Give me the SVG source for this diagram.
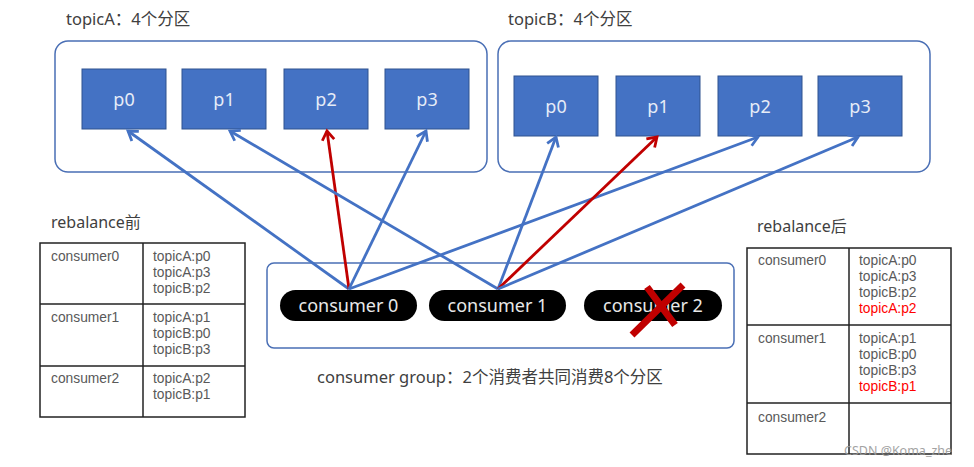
<svg xmlns="http://www.w3.org/2000/svg" width="974" height="467" viewBox="0 0 974 467">
<defs>
<style>
.lbl{font-family:"Noto Sans","Noto Sans CJK SC",sans-serif;font-size:16.5px;fill:#404040}
.topic{fill:#fff;stroke:#4a6fb5;stroke-width:1.5}
.part{fill:#4472C4;stroke:#2F528F;stroke-width:1}
.ptxt{font-family:"Noto Sans","Noto Sans CJK SC",sans-serif;font-size:18px;fill:#e6ecf7;text-anchor:middle}
.pill{fill:#000}
.ctxt{font-family:"Noto Sans","Noto Sans CJK SC",sans-serif;font-size:18px;fill:#e8e8e8;text-anchor:middle}
.tb{fill:none;stroke:#222;stroke-width:1.5}
.tt{font-family:"Liberation Sans",Arial,sans-serif;font-size:13.8px;fill:#595959}
.red{fill:#ff0000}
.blue{stroke:#4472C4;stroke-width:2.8;fill:none}
.redl{stroke:#C00000;stroke-width:2.8;fill:none}
</style>
<marker id="ab" markerUnits="userSpaceOnUse" markerWidth="20" markerHeight="20" viewBox="-12 -10 14 20" refX="0" refY="0" orient="auto">
<path d="M-9,-6 L0,0 L-9,6" fill="none" stroke="#4472C4" stroke-width="2.8"/>
</marker>
<marker id="ar" markerUnits="userSpaceOnUse" markerWidth="20" markerHeight="20" viewBox="-12 -10 14 20" refX="0" refY="0" orient="auto">
<path d="M-9,-6 L0,0 L-9,6" fill="none" stroke="#C00000" stroke-width="2.8"/>
</marker>
</defs>
<rect width="974" height="467" fill="#fff"/>

<g id="topicA">
<text class="lbl" x="66" y="25">topicA：4个分区</text>
<rect class="topic" x="55" y="41" width="432" height="131" rx="13"/>
</g>
<g id="topicB">
<text class="lbl" x="508" y="25">topicB：4个分区</text>
<rect class="topic" x="498" y="41" width="432" height="131" rx="13"/>
</g>

<g id="A-p0"><rect class="part" x="82" y="69" width="84" height="60"/><text class="ptxt" x="124" y="106">p0</text></g>
<g id="A-p1"><rect class="part" x="182" y="69" width="84" height="60"/><text class="ptxt" x="224" y="106">p1</text></g>
<g id="A-p2"><rect class="part" x="284" y="69" width="84" height="60"/><text class="ptxt" x="326" y="106">p2</text></g>
<g id="A-p3"><rect class="part" x="385" y="69" width="84" height="60"/><text class="ptxt" x="427" y="106">p3</text></g>

<g id="B-p0"><rect class="part" x="514" y="76" width="84" height="60"/><text class="ptxt" x="556" y="113">p0</text></g>
<g id="B-p1"><rect class="part" x="616" y="76" width="84" height="60"/><text class="ptxt" x="658" y="113">p1</text></g>
<g id="B-p2"><rect class="part" x="718" y="76" width="84" height="60"/><text class="ptxt" x="760" y="113">p2</text></g>
<g id="B-p3"><rect class="part" x="818" y="76" width="84" height="60"/><text class="ptxt" x="860" y="113">p3</text></g>

<g id="consumer-group">
<rect class="topic" x="267" y="263" width="467" height="85" rx="7"/>
<text class="lbl" x="317" y="383">consumer group：2个消费者共同消费8个分区</text>
</g>

<g id="connectors">
<line class="blue" x1="349" y1="289" x2="128" y2="131" marker-end="url(#ab)"/>
<line class="redl" x1="349" y1="289" x2="327" y2="131" marker-end="url(#ar)"/>
<line class="blue" x1="349" y1="289" x2="426" y2="131" marker-end="url(#ab)"/>
<line class="blue" x1="349" y1="289" x2="758" y2="137" marker-end="url(#ab)"/>
<line class="blue" x1="498" y1="289" x2="230" y2="131" marker-end="url(#ab)"/>
<line class="blue" x1="498" y1="289" x2="556" y2="137" marker-end="url(#ab)"/>
<line class="redl" x1="498" y1="289" x2="657" y2="137" marker-end="url(#ar)"/>
<line class="blue" x1="498" y1="289" x2="858" y2="137" marker-end="url(#ab)"/>
</g>

<g id="consumer0"><rect class="pill" x="280" y="290" width="137" height="31" rx="15.5"/><text class="ctxt" x="348.5" y="312">consumer 0</text></g>
<g id="consumer1"><rect class="pill" x="429" y="290" width="137" height="31" rx="15.5"/><text class="ctxt" x="497.5" y="312">consumer 1</text></g>
<g id="consumer2"><rect class="pill" x="584" y="290" width="138" height="31" rx="15.5"/><text class="ctxt" x="653" y="312">consumer 2</text>
<path d="M632,335 L683,285 M647,287 L675,325" stroke="#C00000" stroke-width="7" fill="none"/>
</g>

<g id="table-before">
<text class="lbl" x="51" y="228" style="font-size:16px">rebalance前</text>
<rect class="tb" x="40" y="243" width="205" height="174"/>
<line class="tb" x1="143" y1="243" x2="143" y2="417"/>
<line class="tb" x1="40" y1="304" x2="245" y2="304"/>
<line class="tb" x1="40" y1="366" x2="245" y2="366"/>
<text class="tt" x="51" y="261">consumer0</text>
<text class="tt" x="153" y="261">topicA:p0<tspan x="153" dy="16">topicA:p3</tspan><tspan x="153" dy="16">topicB:p2</tspan></text>
<text class="tt" x="51" y="322">consumer1</text>
<text class="tt" x="153" y="322">topicA:p1<tspan x="153" dy="16">topicB:p0</tspan><tspan x="153" dy="16">topicB:p3</tspan></text>
<text class="tt" x="51" y="383">consumer2</text>
<text class="tt" x="153" y="383">topicA:p2<tspan x="153" dy="16">topicB:p1</tspan></text>
</g>

<g id="table-after">
<text class="lbl" x="757" y="232" style="font-size:16px">rebalance后</text>
<rect class="tb" x="747" y="248" width="204" height="206"/>
<line class="tb" x1="849" y1="248" x2="849" y2="454"/>
<line class="tb" x1="747" y1="325" x2="951" y2="325"/>
<line class="tb" x1="747" y1="403" x2="951" y2="403"/>
<text class="tt" x="758" y="265">consumer0</text>
<text class="tt" x="859" y="265">topicA:p0<tspan x="859" dy="16">topicA:p3</tspan><tspan x="859" dy="16">topicB:p2</tspan><tspan x="859" dy="16" class="red">topicA:p2</tspan></text>
<text class="tt" x="758" y="343">consumer1</text>
<text class="tt" x="859" y="343">topicA:p1<tspan x="859" dy="16">topicB:p0</tspan><tspan x="859" dy="16">topicB:p3</tspan><tspan x="859" dy="16" class="red">topicB:p1</tspan></text>
<text class="tt" x="758" y="422">consumer2</text>
</g>

<text x="844" y="455" style="font-family:'Noto Sans',sans-serif;font-size:12.5px;fill:#9a9a9a;opacity:0.9">CSDN @Koma_zhe</text>
</svg>
